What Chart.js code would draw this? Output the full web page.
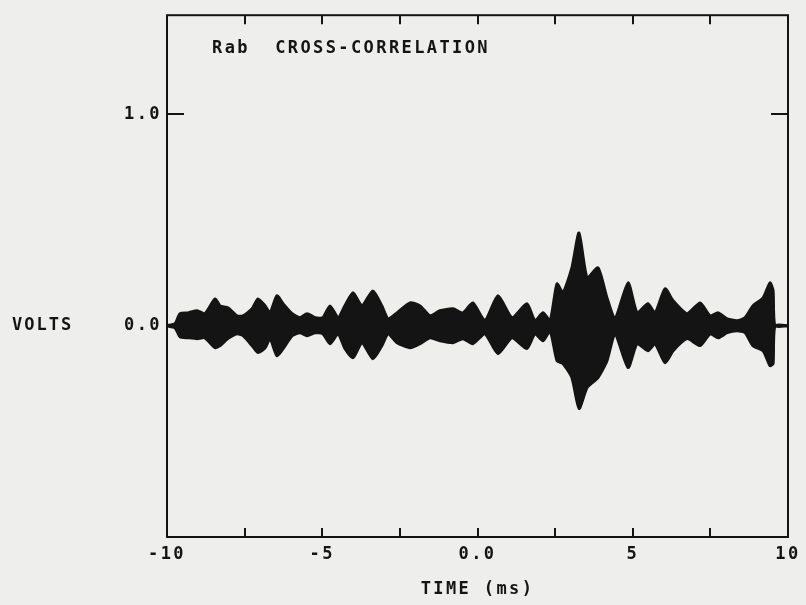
<!DOCTYPE html>
<html><head><meta charset="utf-8">
<script src="https://cdn.jsdelivr.net/npm/chart.js@4.4.1/dist/chart.umd.min.js"></script>
<style>html,body{margin:0;padding:0;background:#eeeeec;overflow:hidden}#wrap{width:806px;height:605px}</style>
</head><body><div id="wrap"><canvas id="c" width="806" height="605"></canvas></div>
<script>
const times = [-10, -9.74, -9.58, -9.32, -9.03, -8.78, -8.45, -8.29, -8.04, -7.75, -7.55, -7.26, -7.07, -6.84, -6.68, -6.46, -6.26, -5.97, -5.72, -5.49, -5.23, -4.98, -4.75, -4.49, -4.27, -4.01, -3.72, -3.37, -3.08, -2.88, -2.59, -2.17, -1.85, -1.53, -1.21, -0.79, -0.47, -0.15, 0.24, 0.66, 1.11, 1.59, 1.85, 2.11, 2.34, 2.56, 2.75, 3.04, 3.27, 3.53, 3.88, 4.17, 4.43, 4.85, 5.14, 5.49, 5.72, 6.04, 6.30, 6.75, 7.17, 7.49, 7.75, 8.04, 8.36, 8.62, 8.87, 9.20, 9.42, 9.52, 9.58, 10];
const upperEnv = [0, 0.01, 0.057, 0.061, 0.071, 0.057, 0.127, 0.094, 0.085, 0.047, 0.047, 0.080, 0.127, 0.094, 0.061, 0.142, 0.104, 0.057, 0.038, 0.057, 0.038, 0.038, 0.094, 0.038, 0.094, 0.156, 0.094, 0.165, 0.094, 0.033, 0.061, 0.108, 0.094, 0.047, 0.071, 0.080, 0.061, 0.108, 0.024, 0.142, 0.038, 0.104, 0.024, 0.061, 0.024, 0.198, 0.156, 0.274, 0.439, 0.226, 0.274, 0.132, 0.033, 0.203, 0.061, 0.104, 0.061, 0.175, 0.118, 0.057, 0.108, 0.047, 0.061, 0.033, 0.024, 0.038, 0.094, 0.132, 0.203, 0.165, 0, 0];
const lowerEnv = [0, -0.01, -0.052, -0.057, -0.061, -0.057, -0.104, -0.094, -0.061, -0.038, -0.047, -0.094, -0.127, -0.104, -0.061, -0.142, -0.108, -0.047, -0.033, -0.047, -0.033, -0.038, -0.085, -0.038, -0.108, -0.151, -0.080, -0.156, -0.094, -0.038, -0.080, -0.104, -0.085, -0.057, -0.071, -0.080, -0.061, -0.085, -0.038, -0.132, -0.057, -0.108, -0.038, -0.071, -0.024, -0.165, -0.179, -0.245, -0.392, -0.292, -0.245, -0.165, -0.038, -0.198, -0.085, -0.118, -0.085, -0.175, -0.118, -0.061, -0.094, -0.038, -0.057, -0.033, -0.024, -0.033, -0.094, -0.118, -0.189, -0.179, 0, 0];
const xTickValues = [-10, -7.5, -5, -2.5, 0, 2.5, 5, 7.5, 10];
const xTickLabels = {"-10": "-10", "-5": "-5", "0": "0.0", "5": "5", "10": "10"};
const yTickValues = [0, 1];
const yTickLabels = {"0": "0.0", "1": "1.0"};
const titleText = "Rab  CROSS-CORRELATION";
const xTitle = "TIME (ms)";
const yTitle = "VOLTS";

const INK = '#141414';
const BG = '#eeeeec';
const FONT = {family: "'DejaVu Sans Mono', monospace", size: 17, weight: 'bold'};

const decor = {
  id: 'decor',
  beforeDraw(chart) {
    const ctx = chart.ctx;
    ctx.save();
    ctx.fillStyle = BG;
    ctx.fillRect(0, 0, chart.width, chart.height);
    ctx.restore();
    ctx.letterSpacing = '2.4px';
  },
  afterDatasetsDraw(chart) {
    const {ctx, chartArea: a, scales: {x, y}} = chart;
    ctx.save();
    ctx.strokeStyle = INK;
    ctx.lineWidth = 2;
    ctx.strokeRect(a.left, a.top, a.right - a.left, a.bottom - a.top);
    ctx.beginPath();
    x.ticks.forEach(t => {
      const px = Math.round(x.getPixelForValue(t.value));
      if (px <= a.left + 1 || px >= a.right - 1) return;
      ctx.moveTo(px, a.bottom); ctx.lineTo(px, a.bottom - 9);
      ctx.moveTo(px, a.top); ctx.lineTo(px, a.top + 9);
    });
    y.ticks.forEach(t => {
      const py = Math.round(y.getPixelForValue(t.value));
      ctx.moveTo(a.left, py); ctx.lineTo(a.left + 17, py);
      ctx.moveTo(a.right, py); ctx.lineTo(a.right - 17, py);
    });
    ctx.stroke();
    ctx.restore();
  },
  afterDraw(chart) {
    const {ctx, chartArea: a, scales: {y}} = chart;
    ctx.save();
    ctx.letterSpacing = '2.4px';
    ctx.fillStyle = INK;
    ctx.font = "bold 17px 'DejaVu Sans Mono', monospace";
    ctx.textBaseline = 'middle';
    ctx.textAlign = 'left';
    ctx.fillText(titleText, a.left + 45, a.top + 33);
    ctx.letterSpacing = '2px';
    ctx.fillText(yTitle, 12, y.getPixelForValue(0));
    ctx.restore();
  }
};

new Chart(document.getElementById('c'), {
  type: 'line',
  data: {
    datasets: [
      {
        data: times.map((t, i) => ({x: t, y: upperEnv[i]})),
        borderColor: INK, backgroundColor: INK, borderWidth: 3,
        pointRadius: 0, tension: 0.2, fill: '+1'
      },
      {
        data: times.map((t, i) => ({x: t, y: lowerEnv[i]})),
        borderColor: INK, backgroundColor: INK, borderWidth: 3,
        pointRadius: 0, tension: 0.2, fill: false
      }
    ]
  },
  options: {
    responsive: false,
    animation: false,
    devicePixelRatio: 1,
    layout: {padding: {top: 12, right: 18, left: 0, bottom: 0}},
    plugins: {legend: {display: false}, tooltip: {enabled: false}, title: {display: false}},
    scales: {
      x: {
        type: 'linear', min: -10, max: 10, position: 'bottom',
        afterBuildTicks: s => { s.ticks = xTickValues.map(v => ({value: v})); },
        afterFit: s => { s.height = 68; },
        grid: {display: false, drawTicks: false},
        border: {display: false},
        ticks: {
          autoSkip: false, maxRotation: 0, minRotation: 0, color: INK, font: FONT, padding: 7,
          callback: v => (xTickLabels[String(v)] !== undefined ? xTickLabels[String(v)] : '')
        },
        title: {display: true, text: xTitle, color: INK, font: FONT, padding: {top: 0, bottom: 5}}
      },
      y: {
        type: 'linear', min: -1.0, max: 1.47,
        afterBuildTicks: s => { s.ticks = yTickValues.map(v => ({value: v})); },
        afterFit: s => { s.width = 167; },
        grid: {display: false, drawTicks: false},
        border: {display: false},
        ticks: {
          color: INK, font: FONT, padding: 5,
          callback: v => (yTickLabels[String(v)] !== undefined ? yTickLabels[String(v)] : '')
        }
      }
    }
  },
  plugins: [decor]
});
</script>
</body></html>
